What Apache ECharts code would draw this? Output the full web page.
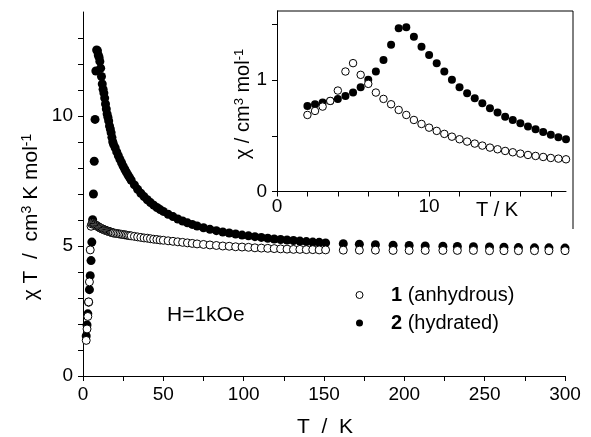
<!DOCTYPE html>
<html>
<head>
<meta charset="utf-8">
<script src="https://cdn.jsdelivr.net/npm/echarts@6/dist/echarts.min.js"></script>
<style>html,body{margin:0;padding:0;background:#fff;}#c{width:591px;height:437px;}</style>
</head>
<body>
<div id="c"></div>
<script>
// ---- Main plot data: chi*T vs T ----
var mainT = [2,2.5,3,3.5,4,4.5,5,5.5,6,6.5,7,7.5,8,8.5,9,9.5,10,10.5,11,11.5,12,12.5,13,13.5,14,14.5,15,15.5,16,16.5,17,17.5,18,18.5,19,
  20,21,22,23,24,25,26,27,28,29,30,
  32,34,36,38,40,42,44,46,48,50,
  53,56,59,62,65,68,71,
  75,79,83,87,91,95,99,103,107,111,115,119,123,127,131,135,139,143,147,151,
  162,172,182,193,203,213,224,233,243,253,262,271,281,290,300];
var mainChiT1 = [1.37,1.81,2.29,2.85,3.62,4.85,5.76,5.85,5.88,5.86,5.84,5.82,5.80,5.78,5.76,5.74,5.72,5.70,5.69,5.67,5.66,5.64,5.63,5.62,5.60,5.59,5.58,5.57,5.56,5.55,5.54,5.53,5.52,5.51,5.50,
  5.49,5.48,5.47,5.46,5.45,5.44,5.43,5.42,5.41,5.40,5.39,
  5.37,5.35,5.33,5.31,5.30,5.28,5.26,5.25,5.23,5.22,
  5.20,5.18,5.16,5.14,5.12,5.10,5.08,
  5.06,5.04,5.02,5.00,4.99,4.97,4.96,4.95,4.93,4.92,4.91,4.90,4.89,4.88,4.87,4.87,4.86,4.86,4.85,4.85,
  4.84,4.84,4.84,4.83,4.83,4.83,4.83,4.83,4.83,4.82,4.82,4.82,4.82,4.82,4.82];
var mainChiT2 = [1.54,1.96,2.39,2.84,3.32,3.86,4.44,5.15,6.01,7.00,8.26,9.87,11.73,12.54,12.51,12.35,12.26,12.10,11.84,11.52,11.23,11.03,10.88,10.69,10.46,10.27,10.08,9.95,9.81,9.62,9.50,9.36,9.18,9.01,8.91,
  8.78,8.62,8.47,8.33,8.20,8.07,7.95,7.84,7.73,7.63,7.53,
  7.35,7.18,7.03,6.90,6.78,6.67,6.57,6.48,6.40,6.33,
  6.22,6.13,6.04,5.96,5.89,5.83,5.77,
  5.70,5.64,5.59,5.54,5.50,5.46,5.42,5.39,5.36,5.33,5.30,5.27,5.25,5.23,5.21,5.19,5.17,5.15,5.14,5.12,
  5.09,5.07,5.05,5.03,5.02,5.00,4.99,4.98,4.97,4.96,4.95,4.94,4.93,4.93,4.92];

// ---- Inset data: chi vs T ----
var insetT = [2,2.5,3,3.5,4,4.5,5,5.5,6,6.5,7,7.5,8,8.5,9,9.5,10,10.5,11,11.5,12,12.5,13,13.5,14,14.5,15,15.5,16,16.5,17,17.5,18,18.5,19];
var insetChi1 = [0.687,0.723,0.762,0.813,0.906,1.077,1.152,1.047,0.966,0.888,0.831,0.783,0.732,0.687,0.642,0.606,0.573,0.544,0.517,0.492,0.469,0.448,0.430,0.412,0.394,0.379,0.364,0.352,0.340,0.328,0.319,0.310,0.301,0.295,0.289];
var insetChi2 = [0.768,0.783,0.798,0.812,0.831,0.858,0.888,0.936,1.002,1.077,1.180,1.316,1.466,1.475,1.390,1.300,1.226,1.152,1.076,1.002,0.936,0.882,0.837,0.792,0.747,0.708,0.672,0.642,0.613,0.583,0.559,0.535,0.510,0.487,0.469];

// ---- Series names and ticks ----
var seriesNames = ['1 (anhydrous)', '2 (hydrated)'];
var mainXTicks = [0,25,50,75,100,125,150,175,200,225,250,275,300];
var mainXLabels = [0,50,100,150,200,250,300];
var mainYTicks = [0,1,2,3,4,5,6,7,8,9,10,11,12,13];
var mainYLabels = [0,5,10];
var insetXTicks = [0,2,4,6,8,10,12,14,16,18];
var insetXLabels = [0,10];
var insetYTicks = [0,0.5,1,1.5];
var insetYLabels = [0,1];

function pairs(xs, ys){ return xs.map(function(x,i){ return [x, ys[i]]; }); }

var FONT = 'Liberation Sans, Arial, Helvetica, sans-serif';
var axisLine = {show:true, onZero:false, lineStyle:{color:'#000', width:1}};
function tick(vals){ return {show:true, inside:false, length:5, customValues:vals, lineStyle:{color:'#000', width:1}}; }
function label(vals, size, margin){ return {show:true, customValues:vals, color:'#000', fontSize:size, fontFamily:FONT, margin:margin}; }

var filled = {color:'#000', opacity:1};
var open = {color:'#fff', borderColor:'#000', borderWidth:1, opacity:1};

var chart = echarts.init(document.getElementById('c'), null, {renderer:'canvas'});
var option = {
  animation:false,
  backgroundColor:'#fff',
  grid:[
    {left:83, right:26, top:12, bottom:61},
    {left:277, right:25, top:11, bottom:245.5}
  ],
  xAxis:[
    {type:'value', gridIndex:0, min:0, max:300, interval:25, axisLine:axisLine, axisTick:tick(mainXTicks), axisLabel:label(mainXLabels,19,9), splitLine:{show:false}},
    {type:'value', gridIndex:1, min:0, max:19, interval:2, axisLine:axisLine, axisTick:tick(insetXTicks), axisLabel:label(insetXLabels,19,6), splitLine:{show:false}}
  ],
  yAxis:[
    {type:'value', gridIndex:0, min:0, max:14, interval:1, axisLine:axisLine, axisTick:tick(mainYTicks), axisLabel:label(mainYLabels,19,10), splitLine:{show:false}},
    {type:'value', gridIndex:1, min:0, max:1.62, interval:0.5, axisLine:axisLine, axisTick:tick(insetYTicks), axisLabel:label(insetYLabels,19,10), splitLine:{show:false}}
  ],
  legend:{
    data:[
      {name:seriesNames[0], icon:'circle', itemStyle:{color:'#fff', borderColor:'#000', borderWidth:1}},
      {name:seriesNames[1], icon:'circle', itemStyle:{color:'#000', borderWidth:0}}
    ],
    orient:'vertical', left:355.5, top:285, padding:0, itemWidth:7, itemHeight:7, itemGap:8,
    selectedMode:false,
    textStyle:{color:'#000', fontSize:20, fontFamily:FONT,
      rich:{sp:{width:23}, b:{fontWeight:'bold', fontSize:20, fontFamily:FONT, color:'#000'}}},
    formatter:function(n){ var i=n.indexOf(' '); return '{sp|}{b|'+n.slice(0,i)+'}'+n.slice(i); }
  },
  series:[
    {name:seriesNames[1], type:'scatter', xAxisIndex:0, yAxisIndex:0, symbol:'circle', symbolSize:9, data:pairs(mainT, mainChiT2), itemStyle:filled, emphasis:{disabled:true}, z:2},
    {name:seriesNames[0], type:'scatter', xAxisIndex:0, yAxisIndex:0, symbol:'circle', symbolSize:8, data:pairs(mainT, mainChiT1), itemStyle:open, emphasis:{disabled:true}, z:3},
    {name:seriesNames[1], type:'scatter', xAxisIndex:1, yAxisIndex:1, symbol:'circle', symbolSize:8, data:pairs(insetT, insetChi2), itemStyle:filled, emphasis:{disabled:true}, z:4},
    {name:seriesNames[0], type:'scatter', xAxisIndex:1, yAxisIndex:1, symbol:'circle', symbolSize:7.5, data:pairs(insetT, insetChi1), itemStyle:open, emphasis:{disabled:true}, z:5}
  ],
  graphic:[
    {type:'polyline', shape:{points:[[277,11],[573,11],[573,229]]}, style:{stroke:'#000', lineWidth:1, fill:null}, silent:true},
    {type:'text', x:31, y:217, rotation:Math.PI/2, silent:true,
      style:{text:'χ T  /  cm{s|3} K mol{s|-1}', fill:'#000', fontSize:21, fontFamily:FONT, align:'center', verticalAlign:'middle',
        rich:{s:{fontSize:14, fontFamily:FONT, fill:'#000', verticalAlign:'top', padding:[0,0,8,0]}}}},
    {type:'text', x:325, y:427, silent:true,
      style:{text:'T  /  K', fill:'#000', fontSize:21, fontFamily:FONT, align:'center', verticalAlign:'middle'}},
    {type:'text', x:243, y:104, rotation:Math.PI/2, silent:true,
      style:{text:'χ / cm{s|3} mol{s|-1}', fill:'#000', fontSize:20, fontFamily:FONT, align:'center', verticalAlign:'middle',
        rich:{s:{fontSize:13, fontFamily:FONT, fill:'#000', verticalAlign:'top', padding:[0,0,8,0]}}}},
    {type:'text', x:497, y:210, silent:true,
      style:{text:'T / K', fill:'#000', fontSize:20, fontFamily:FONT, align:'center', verticalAlign:'middle'}},
    {type:'text', x:167, y:315, silent:true,
      style:{text:'H=1kOe', fill:'#000', fontSize:21, fontFamily:FONT, align:'left', verticalAlign:'middle'}}
  ]
};
chart.setOption(option);
</script>
</body>
</html>
